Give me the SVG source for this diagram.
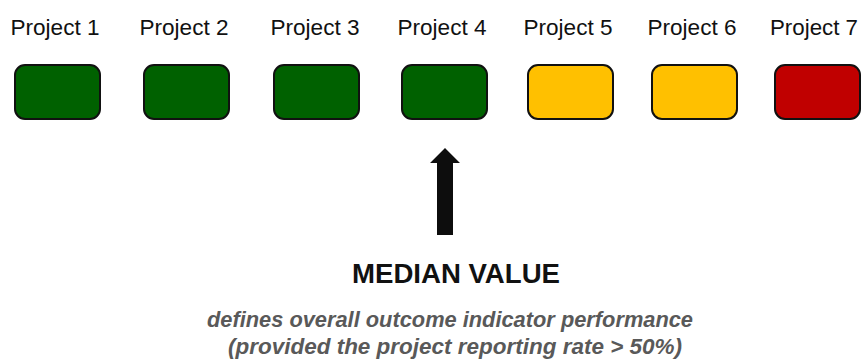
<svg xmlns="http://www.w3.org/2000/svg" width="863" height="360" viewBox="0 0 863 360">
<style>
.lbl{font-family:"Liberation Sans",Arial,sans-serif;font-size:22px;fill:#111;text-anchor:middle}
.box{stroke:#111;stroke-width:2}
.g{fill:#006100}
.y{fill:#FFC000}
.r{fill:#C00000}
.title{font-family:"Liberation Sans",Arial,sans-serif;font-size:27.5px;font-weight:bold;fill:#111;text-anchor:middle}
.sub{font-family:"Liberation Sans",Arial,sans-serif;font-size:21.5px;font-weight:bold;font-style:italic;fill:#595959;text-anchor:middle}
</style>
<rect width="863" height="360" fill="#fff"/>
<g id="p1"><text class="lbl" x="55" y="35" textLength="89" lengthAdjust="spacingAndGlyphs">Project 1</text><rect class="box g" x="15" y="65" width="85" height="54" rx="10"/></g>
<g id="p2"><text class="lbl" x="184" y="35" textLength="89" lengthAdjust="spacingAndGlyphs">Project 2</text><rect class="box g" x="144" y="65" width="85" height="54" rx="10"/></g>
<g id="p3"><text class="lbl" x="315" y="35" textLength="89" lengthAdjust="spacingAndGlyphs">Project 3</text><rect class="box g" x="274" y="65" width="85" height="54" rx="10"/></g>
<g id="p4"><text class="lbl" x="442" y="35" textLength="89" lengthAdjust="spacingAndGlyphs">Project 4</text><rect class="box g" x="402" y="65" width="85" height="54" rx="10"/></g>
<g id="p5"><text class="lbl" x="568" y="35" textLength="89" lengthAdjust="spacingAndGlyphs">Project 5</text><rect class="box y" x="528" y="65" width="85" height="54" rx="10"/></g>
<g id="p6"><text class="lbl" x="692" y="35" textLength="89" lengthAdjust="spacingAndGlyphs">Project 6</text><rect class="box y" x="652" y="65" width="85" height="54" rx="10"/></g>
<g id="p7"><text class="lbl" x="814" y="35" textLength="88" lengthAdjust="spacingAndGlyphs">Project 7</text><rect class="box r" x="775" y="65" width="85" height="54" rx="10"/></g>
<g id="connectors">
<polygon points="445,148 460,163 453,163 453,235 437,235 437,163 430,163" fill="#0d0d0d"/>
</g>
<g id="median">
<text class="title" x="456" y="283" textLength="208" lengthAdjust="spacingAndGlyphs">MEDIAN VALUE</text>
<text class="sub" x="450" y="327" textLength="486" lengthAdjust="spacingAndGlyphs">defines overall outcome indicator performance</text>
<text class="sub" x="455" y="354" textLength="454" lengthAdjust="spacingAndGlyphs">(provided the project reporting rate &gt; 50%)</text>
</g>
</svg>
